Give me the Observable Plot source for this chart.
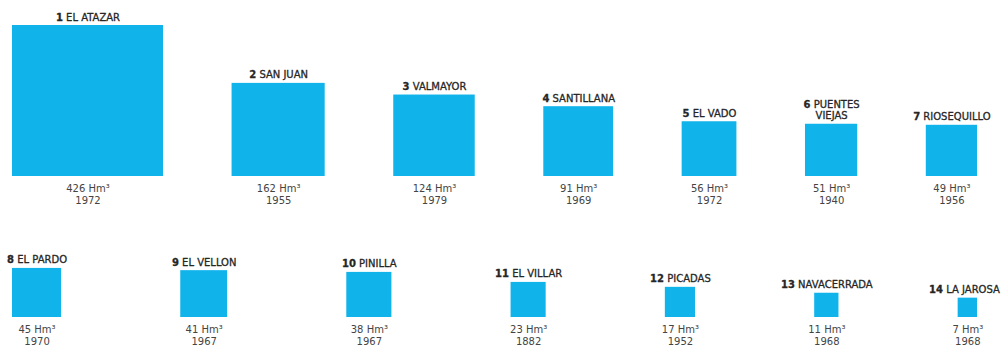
<!DOCTYPE html>
<html>
<head>
<meta charset="utf-8">
<script src="https://cdn.jsdelivr.net/npm/d3@7"></script>
<script src="https://cdn.jsdelivr.net/npm/@observablehq/plot@0.6"></script>
<style>
  html, body { margin: 0; padding: 0; background: #fff; }
  #chart svg { display: block; }
</style>
</head>
<body>
<div id="chart"></div>
<script>
// ---- data ----
const names = ["EL ATAZAR", "SAN JUAN", "VALMAYOR", "SANTILLANA", "EL VADO", "PUENTES\nVIEJAS", "RIOSEQUILLO",
               "EL PARDO", "EL VELLON", "PINILLA", "EL VILLAR", "PICADAS", "NAVACERRADA", "LA JAROSA"];
const capacity = [426, 162, 124, 91, 56, 51, 49, 45, 41, 38, 23, 17, 11, 7]; // Hm³
const years = [1972, 1955, 1979, 1969, 1972, 1940, 1956, 1970, 1967, 1967, 1882, 1952, 1968, 1968];
const rows = [1, 1, 1, 1, 1, 1, 1, 2, 2, 2, 2, 2, 2, 2];

// ---- layout: square area proportional to capacity (side = sqrt(Hm³)) ----
const W = 1002, H = 347;
const k = 151 / Math.sqrt(426);          // pixels per unit of side
const left = 12 / k, right = 977 / k;    // row span, in side units
const base = {1: 176 / k, 2: 317 / k};   // row baselines, in side units

const table = names.map((name, i) => ({
  idx: i + 1, name, cap: capacity[i], year: years[i], row: rows[i], side: Math.sqrt(capacity[i])
}));
for (const r of [1, 2]) {
  const items = table.filter(d => d.row === r);
  const sum = d3.sum(items, d => d.side);
  const gap = (right - left - sum) / (items.length - 1);
  let cur = left;
  for (const d of items) {
    d.x1 = cur; d.x2 = cur + d.side;
    d.y2 = base[r]; d.y1 = base[r] - d.side;
    cur += d.side + gap;
  }
}

const plot = Plot.plot({
  width: W,
  height: H,
  margin: 0,
  x: {domain: [0, W / k], range: [0, W], axis: null},
  y: {domain: [0, H / k], range: [0, H], axis: null},
  style: {fontFamily: "'DejaVu Sans', sans-serif", fontSize: "10px", background: "#fff"},
  marks: [
    Plot.rect(table, {x1: "x1", x2: "x2", y1: "y1", y2: "y2", fill: "#10b3ea"}),
    Plot.text(table, {
      x: d => (d.x1 + d.x2) / 2, y: "y1",
      text: d => d.idx + " " + d.name,
      lineAnchor: "bottom", dy: -5, lineHeight: 1.1,
      fill: "#262626", stroke: "#262626", strokeWidth: 0.3,
      fontSize: 10, className: "namelabel"
    }),
    Plot.text(table, {
      x: d => (d.x1 + d.x2) / 2, y: "y2",
      text: d => `${d.cap} Hm³\n${d.year}`,
      lineAnchor: "top", dy: 7, lineHeight: 1.2,
      fill: "#444", fontSize: 10
    })
  ]
});

// make the leading number of each name label bold
d3.select(plot).selectAll(".namelabel text").each(function () {
  const t = d3.select(this);
  const spans = t.selectAll("tspan");
  const target = spans.empty() ? t : d3.select(spans.nodes()[0]);
  const s = target.text();
  const m = s.match(/^(\d+)(\s.*)$/);
  if (!m) return;
  target.text(null);
  target.append("tspan").attr("font-weight", "bold").text(m[1]);
  target.append("tspan").text(m[2]);
});

document.getElementById("chart").append(plot);

// keep labels inside the picture
const svgBox = plot.getBoundingClientRect();
d3.select(plot).selectAll(".namelabel text").each(function () {
  const b = this.getBoundingClientRect();
  const over = (b.right - svgBox.left) - (W - 2);
  if (over > 0) {
    const tr = this.getAttribute("transform") || "";
    this.setAttribute("transform", `translate(${-over},0) ${tr}`);
  }
});
</script>
</body>
</html>
